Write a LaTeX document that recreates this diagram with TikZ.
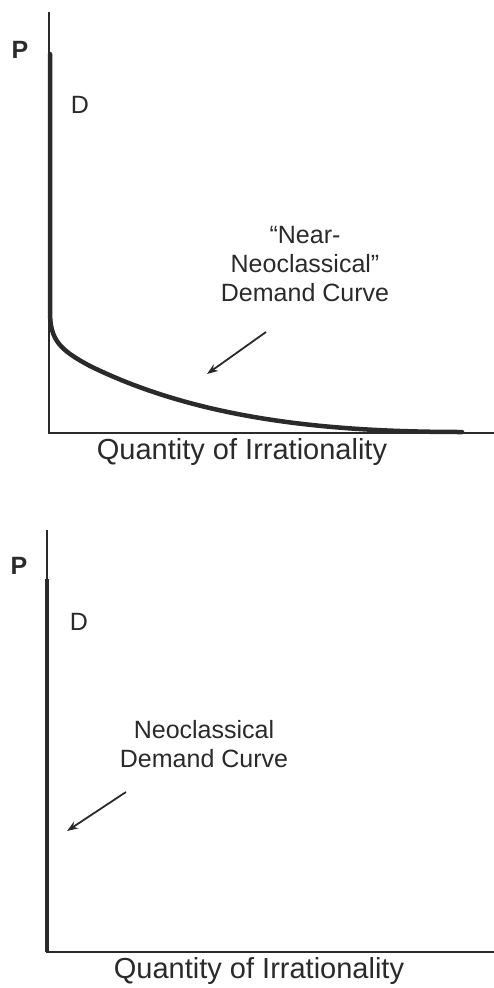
\documentclass[tikz,border=0pt]{standalone}
\usepackage{fontspec}
\setmainfont{Liberation Sans}
\usetikzlibrary{arrows.meta,positioning}
\definecolor{inkdark}{HTML}{2A2A2A}

\begin{document}
\begin{tikzpicture}[x=1pt, y=-1pt, >={Stealth[length=11pt, width=8pt]},
    axisline/.style={line width=1.8pt, color=inkdark},
    demandline/.style={line width=4.5pt, color=inkdark, line cap=round},
    pointer/.style={->, line width=1.8pt, color=inkdark},
    lbl/.style={font=\fontsize{25}{29}\selectfont, color=inkdark, inner sep=0pt},
    axislbl/.style={font=\fontsize{29}{33}\selectfont, color=inkdark, inner sep=0pt}]
  \useasboundingbox (0,0) rectangle (494,988);

  % Upper panel: near-neoclassical demand
  \coordinate (topO) at (49,433);
  \draw[axisline] (49,12) -- (topO) -- (494,433);
  \draw[demandline] (50,54) -- (50,312)
    .. controls (50,340) and (60,350) .. (90,366)
    .. controls (200,420) and (330,432) .. (462,432);

  \node[lbl, font=\fontsize{25}{29}\selectfont\bfseries] (topP) at (20,50) {P};
  \node[lbl] (topD) at (80,105) {D};
  \node[lbl, align=center] (nearText) at (305,264) {``Near-\\Neoclassical''\\Demand Curve};
  \node[axislbl] (topQ) at (242,452) {Quantity of Irrationality};

  \coordinate (nearTail) at (266,332);
  \coordinate (nearTip) at (207,374);
  \draw[pointer] (nearTail) -- (nearTip);

  % Lower panel: neoclassical demand
  \coordinate (botO) at (47,952);
  \draw[axisline] (47,530) -- (botO) -- (494,952);
  \draw[line width=3.6pt, color=inkdark] (47,579) -- (47,952);

  \node[lbl, font=\fontsize{25}{29}\selectfont\bfseries] (botP) at (19,566) {P};
  \node[lbl] (botD) at (79,622) {D};
  \node[lbl, align=center] (neoText) at (204,744) {Neoclassical\\Demand Curve};
  \node[axislbl] (botQ) at (259,971) {Quantity of Irrationality};

  \coordinate (neoTail) at (126,792);
  \coordinate (neoTip) at (67,831);
  \draw[pointer] (neoTail) -- (neoTip);
\end{tikzpicture}
\end{document}
